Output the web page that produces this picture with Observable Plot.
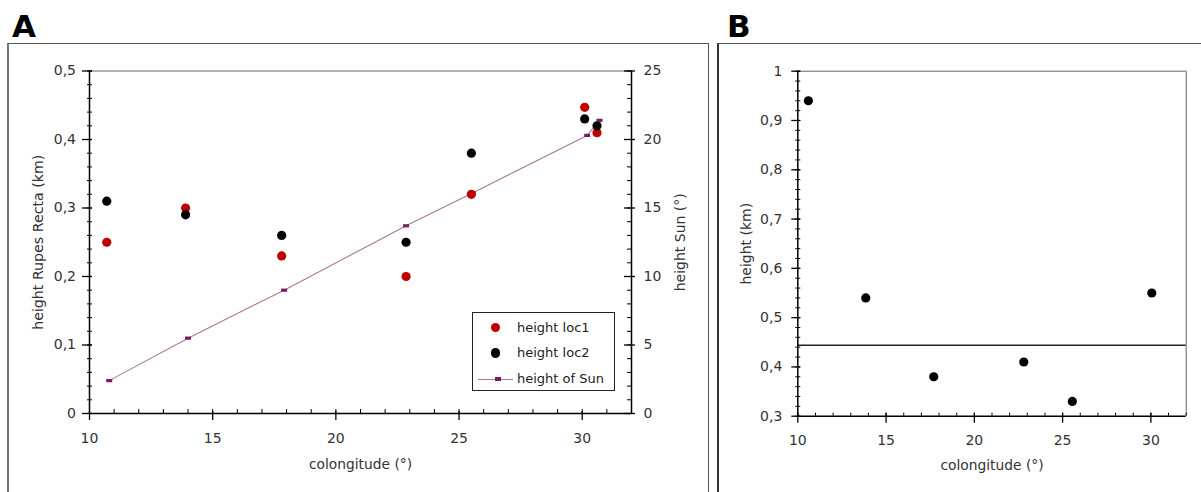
<!DOCTYPE html>
<html><head><meta charset="utf-8">
<script src="https://cdn.jsdelivr.net/npm/d3@7"></script>
<script src="https://cdn.jsdelivr.net/npm/@observablehq/plot@0.6"></script>
<style>
body{margin:0;background:#fff;}
#root{position:relative;width:1201px;height:492px;overflow:hidden;font-family:"DejaVu Sans",sans-serif;color:#222;}
.abs{position:absolute;}
.letter{position:absolute;font-family:"DejaVu Sans",sans-serif;font-weight:bold;font-size:31px;line-height:1;color:#000;}
</style></head><body><div id="root"></div>
<script>
// ---------- data ----------
const colongLoc = [10.7, 13.9, 17.8, 22.85, 25.5, 30.1, 30.6];
const heightLoc1 = [0.25, 0.30, 0.23, 0.20, 0.32, 0.447, 0.41];
const heightLoc2 = [0.31, 0.29, 0.26, 0.25, 0.38, 0.43, 0.42];
const colongSun = [10.8, 14.0, 17.9, 22.85, 25.55, 30.2, 30.7];
const heightSun = [2.4, 5.5, 9.0, 13.7, 16.1, 20.3, 21.4];
const colongB = [10.6, 13.85, 17.7, 22.8, 25.55, 30.05];
const heightB = [0.94, 0.54, 0.38, 0.41, 0.33, 0.55];
const refLineB = [0.444];

const xTicks = [10, 15, 20, 25, 30];
const yTicksA = [0, 0.1, 0.2, 0.3, 0.4, 0.5];
const yTicksB = [0.3, 0.4, 0.5, 0.6, 0.7, 0.8, 0.9, 1];
const legendLabels = ["height loc1", "height loc2", "height of Sun"];
const panelLabels = ["A", "B"];
const xLabel = "colongitude (°)";
const yLabelA = "height Rupes Recta (km)";
const yLabelSun = "height Sun (°)";
const yLabelB = "height (km)";

// scale domains
const xDomain = [10, 32];
const yDomainA = [0, 0.5];
const sunDomain = [0, 25];
const yDomainB = [0.3, 1];
const kmPerDeg = yDomainA[1] / sunDomain[1];

// ---------- helpers ----------
const fmt = d => String(+d.toFixed(3)).replace(".", ",");
const minor = (a, b, s) => d3.range(Math.round((b - a) / s) + 1).map(i => +(a + i * s).toFixed(4));
const red = "#c00000", sunLine = "#a77a93", sunMark = "#7b1c5d";
const sunSymbol = {draw(ctx) { ctx.rect(-3, -1.6, 6, 3.2); }};
const FONT = "DejaVu Sans, sans-serif";

const loc1 = colongLoc.map((x, i) => ({x, y: heightLoc1[i]}));
const loc2 = colongLoc.map((x, i) => ({x, y: heightLoc2[i]}));
const sun = colongSun.map((x, i) => ({x, y: heightSun[i] * kmPerDeg}));
const ptsB = colongB.map((x, i) => ({x, y: heightB[i]}));

const root = document.getElementById("root");

// frames
const frA = document.createElement("div");
frA.className = "abs";
Object.assign(frA.style, {left: "7px", top: "43px", width: "702px", height: "520px", boxSizing: "border-box",
  borderLeft: "2px solid #777", borderTop: "1.5px solid #555", borderRight: "1.5px solid #555"});
root.appendChild(frA);
const frB = document.createElement("div");
frB.className = "abs";
Object.assign(frB.style, {left: "717px", top: "43px", width: "600px", height: "520px", boxSizing: "border-box",
  borderLeft: "2px solid #333", borderTop: "1.5px solid #555"});
root.appendChild(frB);

// ---------- panel A ----------
const xs = xDomain[0], xe = xDomain[1];
const plotA = Plot.plot({
  width: 712, height: 492,
  marginLeft: 89, marginRight: 81, marginTop: 70.5, marginBottom: 79,
  style: {background: "transparent", fontFamily: FONT, fontSize: "14px", color: "#222"},
  x: {domain: xDomain, axis: null},
  y: {domain: yDomainA, axis: null},
  marks: [
    Plot.ruleY([yDomainA[1]], {stroke: "#666", strokeWidth: 1}),
    Plot.line(sun, {x: "x", y: "y", stroke: sunLine, strokeWidth: 1.1}),
    Plot.dot(sun, {x: "x", y: "y", symbol: sunSymbol, fill: sunMark, stroke: "none"}),
    Plot.dot(loc1, {x: "x", y: "y", r: 4.6, fill: red, stroke: "none"}),
    Plot.dot(loc2, {x: "x", y: "y", r: 4.6, fill: "#000", stroke: "none"}),
    // axis lines
    Plot.ruleX([xs], {stroke: "#000", strokeWidth: 1.5}),
    Plot.ruleX([xe], {stroke: "#000", strokeWidth: 1.5}),
    Plot.ruleY([yDomainA[0]], {stroke: "#000", strokeWidth: 1.5}),
    // left ticks
    Plot.ruleY(yTicksA, {x1: () => xs, x2: () => xs, insetLeft: -7, insetRight: -3, stroke: "#000", strokeWidth: 1.3}),
    Plot.ruleY(minor(0, 0.5, 0.02), {x1: () => xs, x2: () => xs, insetLeft: -2, insetRight: -3, stroke: "#000", strokeWidth: 1}),
    // right ticks
    Plot.ruleY(yTicksA, {x1: () => xe, x2: () => xe, insetLeft: -7, insetRight: -4, stroke: "#000", strokeWidth: 1.3}),
    Plot.ruleY(minor(0, 0.5, 0.02), {x1: () => xe, x2: () => xe, insetLeft: -4, insetRight: 0, stroke: "#000", strokeWidth: 1}),
    // bottom ticks
    Plot.ruleX(xTicks, {y1: () => yDomainA[0], y2: () => yDomainA[0], insetTop: -2, insetBottom: -7, stroke: "#000", strokeWidth: 1.3}),
    Plot.ruleX(minor(10, 32, 1), {y1: () => yDomainA[0], y2: () => yDomainA[0], insetTop: -4, insetBottom: 0, stroke: "#000", strokeWidth: 1}),
    // tick labels
    Plot.axisY(yTicksA, {anchor: "left", tickSize: 0, tickPadding: 13.5, tickFormat: fmt, label: null, fontSize: 14, fill: "#333"}),
    Plot.axisY(yTicksA, {anchor: "right", tickSize: 0, tickPadding: 12, tickFormat: d => fmt(d / kmPerDeg), label: null, fontSize: 14, fill: "#333"}),
    Plot.axisX(xTicks, {anchor: "bottom", tickSize: 0, tickPadding: 20, label: null, fontSize: 14, fill: "#333"}),
    // axis titles
    Plot.text([yLabelA], {frameAnchor: "left", textAnchor: "middle", dx: -51, rotate: -90, fontSize: 14.2, fill: "#333"}),
    Plot.text([yLabelSun], {frameAnchor: "right", textAnchor: "middle", dx: 49, rotate: -90, fontSize: 14, fill: "#333"}),
    Plot.text([xLabel], {frameAnchor: "bottom", dy: 55, fontSize: 13.8, fill: "#333"})
  ]
});
plotA.style.position = "absolute"; plotA.style.left = "0px"; plotA.style.top = "0px";
root.appendChild(plotA);

// ---------- panel B ----------
const plotB = Plot.plot({
  width: 489, height: 492,
  marginLeft: 85.3, marginRight: 15.3, marginTop: 70.7, marginBottom: 76.3,
  style: {background: "transparent", fontFamily: FONT, fontSize: "14px", color: "#222"},
  x: {domain: xDomain, axis: null},
  y: {domain: yDomainB, axis: null},
  marks: [
    Plot.ruleY([yDomainB[1]], {stroke: "#666", strokeWidth: 1}),
    Plot.ruleX([xe], {stroke: "#666", strokeWidth: 1}),
    Plot.ruleY(refLineB, {stroke: "#222", strokeWidth: 1.5}),
    Plot.dot(ptsB, {x: "x", y: "y", r: 4.6, fill: "#000", stroke: "none"}),
    Plot.ruleX([xs], {stroke: "#000", strokeWidth: 1.5}),
    Plot.ruleY([yDomainB[0]], {stroke: "#000", strokeWidth: 1.5}),
    Plot.ruleY(yTicksB, {x1: () => xs, x2: () => xs, insetLeft: -6, insetRight: -3, stroke: "#000", strokeWidth: 1.3}),
    Plot.ruleY(minor(0.3, 1, 0.02), {x1: () => xs, x2: () => xs, insetLeft: -2, insetRight: -3, stroke: "#000", strokeWidth: 1}),
    Plot.ruleX(xTicks, {y1: () => yDomainB[0], y2: () => yDomainB[0], insetTop: -3, insetBottom: -7, stroke: "#000", strokeWidth: 1.3}),
    Plot.ruleX(minor(10, 32, 1), {y1: () => yDomainB[0], y2: () => yDomainB[0], insetTop: -3, insetBottom: 0, stroke: "#000", strokeWidth: 1}),
    Plot.axisY(yTicksB, {anchor: "left", tickSize: 0, tickPadding: 15.5, tickFormat: fmt, label: null, fontSize: 14, fill: "#333"}),
    Plot.axisX(xTicks, {anchor: "bottom", tickSize: 0, tickPadding: 19, label: null, fontSize: 14, fill: "#333"}),
    Plot.text([yLabelB], {frameAnchor: "left", textAnchor: "middle", dx: -51.3, rotate: -90, fontSize: 14, fill: "#333"}),
    Plot.text([xLabel], {frameAnchor: "bottom", dy: 54, fontSize: 13.8, fill: "#333"})
  ]
});
plotB.style.position = "absolute"; plotB.style.left = "712px"; plotB.style.top = "0px";
root.appendChild(plotB);

// ---------- legend (panel A) ----------
const lg = document.createElement("div");
lg.className = "abs";
Object.assign(lg.style, {left: "472px", top: "312px", width: "143px", height: "79px", boxSizing: "border-box",
  border: "1px solid #222", background: "#fff", fontSize: "13px", color: "#222"});
root.appendChild(lg);
const rowY = [14.5, 40, 66];
legendLabels.forEach((lab, i) => {
  const t = document.createElement("div");
  t.className = "abs";
  Object.assign(t.style, {left: "44px", top: (rowY[i] - 8) + "px", lineHeight: "16px", whiteSpace: "nowrap"});
  t.textContent = lab;
  lg.appendChild(t);
  if (i < 2) {
    const d = document.createElement("div");
    d.className = "abs";
    Object.assign(d.style, {left: (22.5 - 4.6) + "px", top: (rowY[i] - 4.6) + "px", width: "9.2px", height: "9.2px",
      borderRadius: "50%", background: i === 0 ? red : "#000"});
    lg.appendChild(d);
  } else {
    const l = document.createElement("div");
    l.className = "abs";
    Object.assign(l.style, {left: "5px", top: (rowY[i] - 0.5) + "px", width: "35px", height: "1.1px", background: sunLine});
    lg.appendChild(l);
    const m = document.createElement("div");
    m.className = "abs";
    Object.assign(m.style, {left: "22px", top: (rowY[i] - 1.6) + "px", width: "6px", height: "3.2px", background: sunMark});
    lg.appendChild(m);
  }
});

// ---------- panel letters ----------
const letterPos = [[12, 11], [727, 11]];
panelLabels.forEach((s, i) => {
  const el = document.createElement("div");
  el.className = "letter";
  el.style.left = letterPos[i][0] + "px";
  el.style.top = letterPos[i][1] + "px";
  el.textContent = s;
  root.appendChild(el);
});
</script></body></html>
